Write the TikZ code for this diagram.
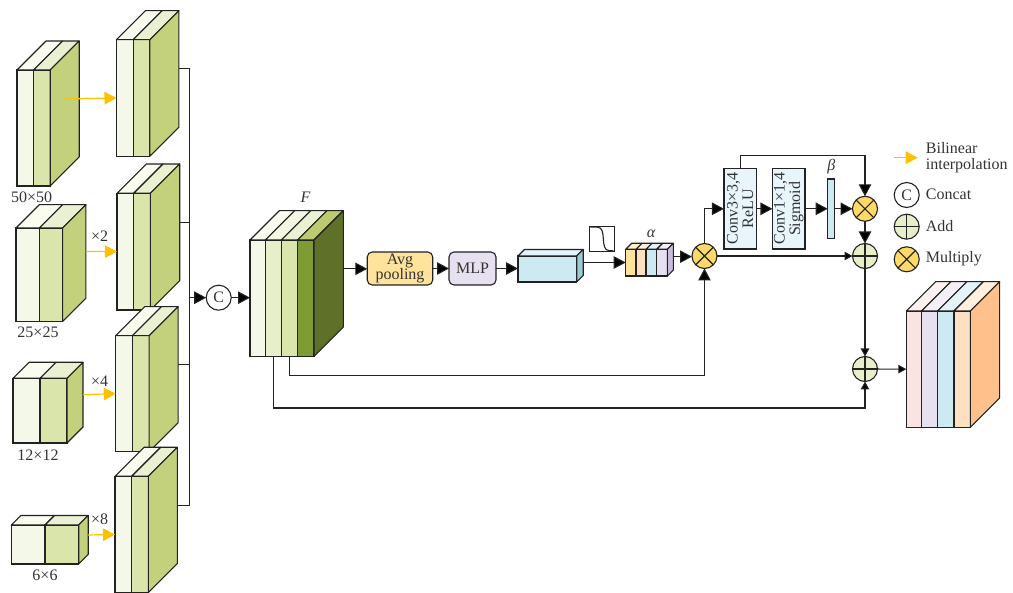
\documentclass[tikz,border=0pt]{standalone}
\usepackage{fontspec}
\setmainfont{Liberation Serif}
\usepackage{xcolor}
\usetikzlibrary{arrows.meta,calc}

\definecolor{inkline}{HTML}{222222}
\definecolor{txtgrey}{HTML}{333333}
\definecolor{gA}{HTML}{F4F8E8}
\definecolor{gAt}{HTML}{FAFCF0}
\definecolor{gB}{HTML}{E6EFC9}
\definecolor{gBt}{HTML}{F3F7E4}
\definecolor{gC}{HTML}{DAE5AC}
\definecolor{gCt}{HTML}{EAF0D2}
\definecolor{gS}{HTML}{C3D17D}
\definecolor{gD}{HTML}{7F9B33}
\definecolor{gDt}{HTML}{BCCB70}
\definecolor{gDs}{HTML}{5F7029}
\definecolor{ylw}{HTML}{FFE29B}
\definecolor{ylwt}{HTML}{FFF0C8}
\definecolor{lil}{HTML}{E7E0F0}
\definecolor{lilt}{HTML}{F3EFF7}
\definecolor{lils}{HTML}{C9BBDC}
\definecolor{sky}{HTML}{CDE9F1}
\definecolor{skyt}{HTML}{E3F3F8}
\definecolor{skys}{HTML}{9CCBD8}
\definecolor{skyb}{HTML}{E8F5FA}
\definecolor{pch}{HTML}{FDDFC2}
\definecolor{pcht}{HTML}{FEEFE0}
\definecolor{pchs}{HTML}{FFC08C}
\definecolor{rose}{HTML}{F9E4E2}
\definecolor{roset}{HTML}{FCF1EF}
\definecolor{amber}{HTML}{FFC000}
\definecolor{opyl}{HTML}{FFD966}

% one stripe of a block: name, x, y, w, h, depth, front, top
\newcommand{\slab}[8]{
  \node[slabf, fill=#7, minimum width=#4pt, minimum height=#5pt] (#1) at (#2,#3) {};
  \draw[slabl, fill=#8] (#1.north west) -- ++(#6,-#6) -- ++(#4,0) -- (#1.north east) -- cycle;
}
% side face of a block: last stripe, h, depth, colour, name of back edge
\newcommand{\slabside}[5]{
  \draw[slabl, fill=#4] (#1.north east) -- ++(#3,-#3) -- ++(0,#2) -- (#1.south east) -- cycle;
  \coordinate (#5) at ($(#1.east)+(#3,-#3)$);
}
% block of two green stripes
\newcommand{\twoblock}[7]{
  \slab{#1a}{#2}{#3}{#4}{#5}{#6}{gA}{gAt}
  \slab{#1b}{#2+#4}{#3}{#4}{#5}{#6}{gC}{gCt}
  \slabside{#1b}{#5}{#6}{gS}{#7}
}

\begin{document}
\begin{tikzpicture}[
  x=1pt, y=-1pt,
  font=\fontsize{16}{15.5}\selectfont,
  every node/.append style={text=txtgrey},
  slabf/.style={draw=inkline, line width=1.1pt, inner sep=0pt, outer sep=0pt, anchor=north west},
  slabl/.style={draw=inkline, line width=1.1pt, line join=round},
  box/.style={draw=inkline, line width=1.1pt, align=center, inner sep=0pt, outer sep=0pt},
  rbox/.style={box, rounded corners=5pt, minimum height=33pt},
  convbox/.style={box, fill=skyb, minimum width=80.5pt, minimum height=32.5pt},
  op/.style={circle, draw=inkline, line width=1.1pt, minimum size=25pt, inner sep=0pt, outer sep=0pt},
  addop/.style={op, fill=gB, path picture={
    \draw[inkline, line width=1.1pt] (path picture bounding box.north) -- (path picture bounding box.south)
      (path picture bounding box.west) -- (path picture bounding box.east);}},
  mulop/.style={op, fill=opyl, path picture={
    \draw[inkline, line width=1.1pt] (path picture bounding box.north west) -- (path picture bounding box.south east)
      (path picture bounding box.south west) -- (path picture bounding box.north east);}},
  arrow/.style={draw=inkline, line width=1.1pt, -{Triangle[length=12pt,width=12.5pt,fill=black]}},
  smallarrow/.style={draw=inkline, line width=1.1pt, -{Triangle[length=8pt,width=8.5pt,fill=black]}},
  wire/.style={draw=inkline, line width=1.1pt},
  upsample/.style={draw=amber, line width=1.2pt, -{Triangle[length=12pt,width=12.5pt]}},
  legtext/.style={anchor=west, inner sep=0pt},
]
  \useasboundingbox (0,0) rectangle (1013,593);

  % input scales
  \twoblock{sa}{17}{70}{16.6}{116}{29}{sae}
  \twoblock{sb}{16}{228}{23.3}{93.5}{23.3}{sbe}
  \twoblock{sc}{13}{378.3}{27}{64.7}{16}{sce}
  \twoblock{sd}{11.3}{525}{33.7}{39}{9.5}{sde}

  % upsampled blocks
  \twoblock{ua}{116.5}{39.7}{16.7}{116.5}{29}{uae}
  \twoblock{ub}{117}{193.3}{16.7}{116.7}{29.3}{ube}
  \twoblock{uc}{115.7}{335.7}{16.7}{116}{29}{uce}
  \twoblock{ud}{115}{476.3}{16.7}{116.2}{29}{ude}

  \node at (31.7,197) (lsa) {50×50};
  \node at (38,332.3) (lsb) {25×25};
  \node at (38,455.3) (lsc) {12×12};
  \node at (45,575.7) (lsd) {6×6};
  \node at (99.7,236.7) (lub) {×2};
  \node at (99.7,381.7) (luc) {×4};
  \node at (99.7,519.7) (lud) {×8};

  \draw[upsample] ($(sae)+(-15,0)$) -- (uaa.west);
  \draw[upsample] (sbe) -- (uba.west);
  \draw[upsample] (sce) -- (uca.west);
  \draw[upsample] (sde) -- (uda.west);

  % concat bus
  \coordinate (bustop) at (189.3,69);
  \coordinate (busbot) at (189.3,505.7);
  \coordinate (busc) at (189.3,297.7);
  \draw[wire] (uae) -- (uae -| bustop) -- (busbot -| bustop) -- (ude |- busbot);
  \draw[wire] (ube) -- (ube -| bustop);
  \draw[wire] (uce) -- (uce -| bustop);

  \node[op] (concat) at (218.7,297.7) {C};
  \draw[arrow] (busc) -- (concat);

  % F
  \slab{fa}{250}{240}{15.3}{116.3}{29.3}{gA}{gAt}
  \slab{fb}{265.3}{240}{16}{116.3}{29.3}{gB}{gBt}
  \slab{fc}{281.3}{240}{16.4}{116.3}{29.3}{gC}{gCt}
  \slab{fd}{297.7}{240}{16.3}{116.3}{29.3}{gD}{gDt}
  \slabside{fd}{116.3}{29.3}{gDs}{fe}
  \node at (305.7,197) (lf) {\textit{F}};
  \draw[arrow] (concat) -- (fa.west |- concat);

  \node[rbox, fill=ylw, minimum width=65.5pt] (avg) at (400,268.5) {Avg\\pooling};
  \node[rbox, fill=lil, minimum width=47pt] (mlp) at (472.5,268.5) {MLP};
  \draw[arrow] (fe) -- (avg.west |- fe);
  \draw[arrow] (avg) -- (mlp);

  % channel vector
  \slab{vec}{518}{256}{58.7}{26}{6.5}{sky}{skyt}
  \slabside{vec}{26}{6.5}{skys}{vece}
  \draw[arrow] (mlp) -- (vec.west |- mlp);

  \node[box, minimum width=24.7pt, minimum height=24.7pt] (sig) at (601.7,239) {};
  \draw[wire] ($(sig.north west)+(1,0.5)$) -- ++(7,0) to[out=0,in=180] ++(12,23.5) -- ($(sig.south east)+(-0.5,-0.5)$);

  % alpha
  \slab{ala}{625.7}{249.3}{10.3}{26.7}{6}{ylw}{ylwt}
  \slab{alb}{636}{249.3}{10}{26.7}{6}{pch}{pcht}
  \slab{alc}{646}{249.3}{10.7}{26.7}{6}{sky}{skyt}
  \slab{ald}{656.7}{249.3}{10.6}{26.7}{6}{lil}{lilt}
  \slabside{ald}{26.7}{6}{lils}{ale}
  \node at (651.3,234) (lal) {\textit{α}};
  \draw[arrow] (vece) -- (ala.west |- vece);

  \node[mulop] (mula) at (704.5,256) {};
  \draw[arrow] (ale) -- (mula.west |- ale);

  % refinement branch (rotated nodes: north is on the left, south on the right, east on top)
  \node[convbox, rotate=90] (conva) at (740.2,208.8) {Conv3×3,4\\ReLU};
  \node[convbox, rotate=90] (convb) at (788.7,208.8) {Conv1×1,4\\Sigmoid};
  \node[box, fill=sky, minimum width=7pt, minimum height=59.6pt] (bet) at (831.2,208.8) {};
  \node at (831.3,167) (lbe) {\textit{β}};
  \node[mulop] (mulb) at (865,208.8) {};
  \node[addop] (adda) at (865,256) {};
  \node[addop] (addb) at (865,369) {};

  \coordinate (loopa) at (740.2,155.7);
  \draw[arrow] (mula) |- (conva.north);
  \draw[arrow] (conva.south) -- (convb.north);
  \draw[arrow] (convb.south) -- (bet);
  \draw[arrow] (bet) -- (mulb);
  \draw[wire] (conva.east) -- (loopa);
  \draw[arrow] (loopa) -| (mulb.north);
  \draw[arrow] (mulb) -- (adda);
  \draw[smallarrow] (mula) -- (adda);
  \draw[smallarrow] (adda) -- (addb);

  \draw[arrow] (fc.south) -- ++(0,19.4) -| (mula.south);
  \draw[smallarrow] (fb.south) -- ++(0,51.7) -| (addb.south);

  % output block
  \slab{oa}{906.3}{311}{15.4}{116.3}{29.3}{rose}{roset}
  \slab{ob}{921.7}{311}{16}{116.3}{29.3}{lil}{lilt}
  \slab{oc}{937.7}{311}{16.3}{116.3}{29.3}{sky}{skyt}
  \slab{od}{954}{311}{16.3}{116.3}{29.3}{pch}{pcht}
  \slabside{od}{116.3}{29.3}{pchs}{oe}
  \draw[smallarrow] (addb) -- (oa.west);

  % legend
  \coordinate (lega) at (894,157.7);
  \coordinate (legb) at (917.7,157.7);
  \draw[upsample] (lega) -- (legb);
  \node[legtext, align=left] (legi) at (925.7,157.7) {Bilinear\\interpolation};
  \node[op] (legc) at (906.7,195) {C};
  \node[addop] (legd) at (906.7,226.7) {};
  \node[mulop] (lege) at (906.7,259.3) {};
  \node[legtext] (legct) at (925.7,194) {Concat};
  \node[legtext] (legdt) at (925.7,226) {Add};
  \node[legtext] (leget) at (925.7,259) {Multiply};
\end{tikzpicture}
\end{document}
